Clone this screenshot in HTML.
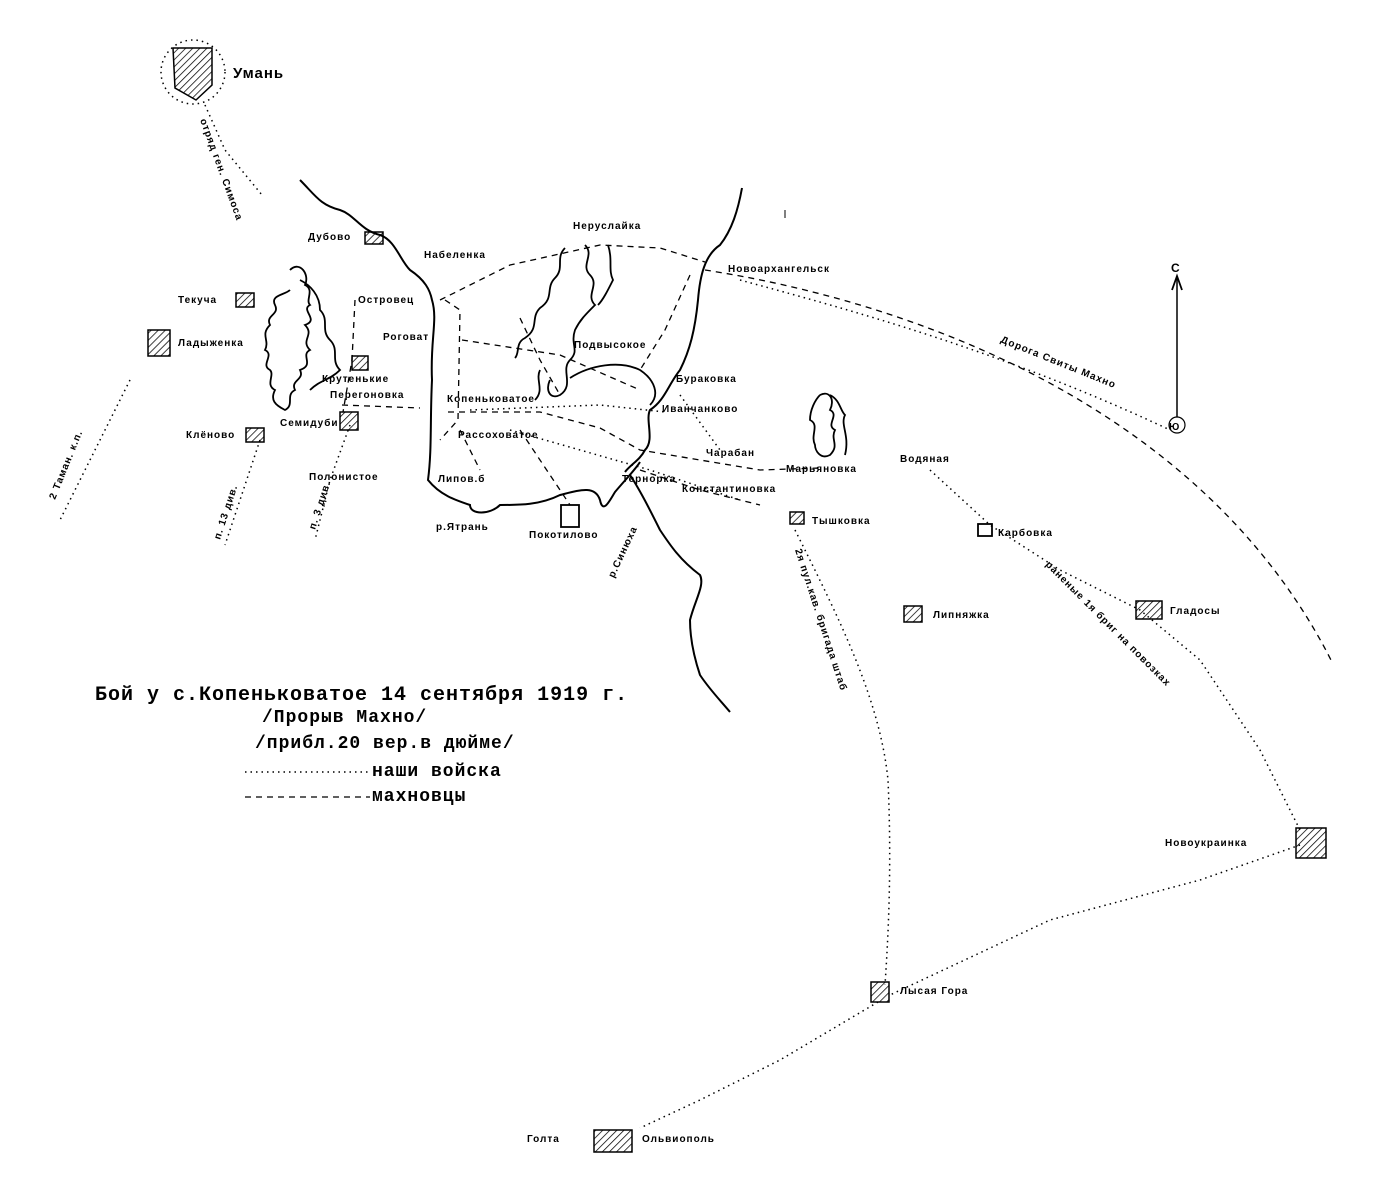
<!DOCTYPE html>
<html><head><meta charset="utf-8"><style>
html,body{margin:0;padding:0;background:#fff;}
svg{display:block}
text{font-family:"Liberation Sans",sans-serif;font-weight:bold;fill:#000;letter-spacing:1px}
.s{font-size:10px}
.r{fill:none;stroke:#000;stroke-width:2}
.d{fill:none;stroke:#000;stroke-width:1.3;stroke-dasharray:6 5}
.o{fill:none;stroke:#000;stroke-width:1.5;stroke-dasharray:1.5 4}
.h{fill:none;stroke:#000;stroke-width:1.8}
.t{fill:url(#hat);stroke:#000;stroke-width:1.5}
.m{font-family:"Liberation Mono",monospace}
</style></head><body>
<svg width="1373" height="1186" viewBox="0 0 1373 1186" xmlns="http://www.w3.org/2000/svg">
<defs><pattern id="hat" width="5" height="5" patternUnits="userSpaceOnUse" patternTransform="rotate(45)"><line x1="0" y1="0" x2="0" y2="5" stroke="#000" stroke-width="1.5"/></pattern></defs>
<rect width="1373" height="1186" fill="#fff"/>
<circle cx="193" cy="72" r="32" class="o"/>
<path d="M173 48 L212 48 L212 85 L196 100 L175 88 Z" class="t" stroke-width="3"/>
<text x="233" y="78" font-size="15">Умань</text>
<path d="M205 105 L225 150 L262 195" class="o"/>
<text x="200" y="120" class="s" transform="rotate(70 200 120)">отряд ген. Симоса</text>
<path d="M300 180 C315 195 320 205 340 210 C355 215 360 230 380 235 C395 240 400 260 410 270 C425 280 430 290 432 300 C438 320 430 340 432 380 C430 420 432 450 428 480 C440 495 455 500 470 505 C470 515 490 515 500 505 C520 505 540 505 560 495 C580 490 595 485 600 500 C603 515 610 500 615 492 C625 480 635 470 640 462" class="r"/>
<path d="M742 188 C738 210 732 230 720 245 C705 255 700 275 698 300 C695 330 690 350 680 370 C668 385 665 400 650 410 C645 420 655 440 645 450 C640 460 630 465 625 472" class="r"/>
<path d="M630 475 C640 490 650 510 660 530 C670 545 680 560 700 575 C705 585 695 600 690 620 C690 640 695 660 700 675 C710 690 720 700 730 712" class="r"/>
<path d="M570 378 C590 365 620 360 640 370 C655 380 660 395 650 405" class="h"/>
<text x="436" y="530" class="s">р.Ятрань</text>
<text x="618" y="535" class="s" transform="rotate(-65 650 560)">р.Синюха</text>
<path d="M290 270 c10 -10 20 5 15 15 c10 5 0 15 5 20 c-10 5 10 15 -5 20 c10 10 -5 15 5 25 c-10 5 5 15 -10 20 c5 10 -10 10 -5 20 c-10 5 0 15 -10 20 c-10 -5 -15 -10 -10 -20 c-10 -5 0 -15 -5 -20 c-10 -5 5 -15 -5 -20 c5 -10 -5 -15 5 -25 c-5 -10 10 -10 5 -20 c-5 -10 10 -10 15 -15" class="h"/>
<path d="M300 280 c10 5 20 15 20 30 c10 10 0 20 10 30 c10 10 0 20 10 30 c-10 10 -20 10 -30 20" class="h"/>
<path d="M565 248 c-10 10 0 20 -10 30 c-10 10 0 20 -15 30 c-10 10 0 20 -15 30 c-10 5 -5 15 -10 20 M585 245 c10 10 -5 20 5 30 c10 10 -5 20 5 30 c-10 10 -15 15 -20 25 c-5 15 5 20 -5 30 c-10 10 5 25 -10 35 c-10 5 -15 -5 -10 -15 M540 370 c-5 10 5 20 -5 30" class="h"/>
<path d="M608 245 c5 15 0 25 5 35 c-5 10 -10 20 -15 25" class="h"/>
<path d="M820 395 c10 -5 15 5 10 15 c10 5 -5 15 5 20 c-5 10 5 15 -5 25 c-10 5 -15 -5 -15 -10 c-5 -10 5 -20 -5 -25 c0 -10 5 -20 10 -25 M830 395 c10 5 10 15 15 20 c-5 10 5 20 0 40" class="h"/>
<rect x="365" y="232" width="18" height="12" class="t"/><text x="308" y="240" class="s">Дубово</text>
<text x="424" y="258" class="s">Набеленка</text>
<text x="573" y="229" class="s">Неруслайка</text>
<text x="728" y="272" class="s">Новоархангельск</text>
<rect x="236" y="293" width="18" height="14" class="t"/><text x="178" y="303" class="s">Текуча</text>
<rect x="148" y="330" width="22" height="26" class="t"/><text x="178" y="346" class="s">Ладыженка</text>
<text x="358" y="303" class="s">Островец</text>
<text x="383" y="340" class="s">Роговат</text>
<rect x="352" y="356" width="16" height="14" class="t"/><text x="322" y="382" class="s">Крутенькие</text>
<text x="330" y="398" class="s">Перегоновка</text>
<rect x="340" y="412" width="18" height="18" class="t"/><text x="280" y="426" class="s">Семидуби</text>
<rect x="246" y="428" width="18" height="14" class="t"/><text x="186" y="438" class="s">Клёново</text>
<text x="309" y="480" class="s">Полонистое</text><text x="438" y="482" class="s">Липов.б</text>
<text x="447" y="402" class="s">Копеньковатое</text>
<text x="458" y="438" class="s">Рассоховатое</text>
<text x="574" y="348" class="s">Подвысокое</text>
<text x="676" y="382" class="s">Бураковка</text>
<text x="662" y="412" class="s">Иванчанково</text>
<text x="706" y="456" class="s">Чарабан</text><text x="786" y="472" class="s">Марьяновка</text>
<text x="622" y="482" class="s">Тернорка</text><text x="682" y="492" class="s">Константиновка</text>
<rect x="561" y="505" width="18" height="22" class="h"/><text x="529" y="538" class="s">Покотилово</text>
<text x="900" y="462" class="s">Водяная</text>
<rect x="790" y="512" width="14" height="12" class="t"/><text x="812" y="524" class="s">Тышковка</text>
<rect x="978" y="524" width="14" height="12" class="h"/><text x="998" y="536" class="s">Карбовка</text>
<rect x="904" y="606" width="18" height="16" class="t"/><text x="933" y="618" class="s">Липняжка</text>
<rect x="1136" y="601" width="26" height="18" class="t"/><text x="1170" y="614" class="s">Гладосы</text>
<rect x="1296" y="828" width="30" height="30" class="t"/><text x="1165" y="846" class="s">Новоукраинка</text>
<rect x="871" y="982" width="18" height="20" class="t"/><text x="900" y="994" class="s">Лысая Гора</text>
<rect x="594" y="1130" width="38" height="22" class="t"/><text x="527" y="1142" class="s">Голта</text><text x="642" y="1142" class="s">Ольвиополь</text>
<line x1="1177" y1="278" x2="1177" y2="430" stroke="#000" stroke-width="1.5"/>
<path d="M1172 290 L1177 276 L1182 290" class="h"/>
<text x="1171" y="272" font-size="12">С</text>
<circle cx="1177" cy="425" r="8" fill="#fff" stroke="#000" stroke-width="1.2"/><text x="1169" y="430" class="s">Ю</text>
<line x1="785" y1="210" x2="785" y2="218" stroke="#000"/>
<path d="M440 300 L510 265 L600 245 L660 248 L705 262" class="d"/>
<path d="M705 270 C900 300 1200 400 1332 662" class="d"/>
<path d="M445 300 L460 310 L458 420 L440 440" class="d"/>
<path d="M462 340 L560 355 L640 390" class="d"/>
<path d="M520 318 L540 360 L560 395" class="d"/>
<path d="M690 275 L665 330 L640 370" class="d"/>
<path d="M448 412 L540 412 L600 428 L640 450 L700 460 L760 470 L820 468" class="d"/>
<path d="M460 430 L480 470 M520 430 L560 490 L570 505" class="d"/>
<path d="M342 405 L420 408" class="d"/>
<path d="M640 470 L700 490 L760 505" class="d"/>
<path d="M355 300 L352 360 L343 412" class="d"/>
<path d="M130 380 L95 450 L60 520" class="o"/>
<text x="55" y="500" class="s" transform="rotate(-68 55 500)">2 Таман. к.п.</text>
<path d="M260 440 L240 500 L225 545" class="o"/>
<text x="220" y="540" class="s" transform="rotate(-72 220 540)">п. 13 див.</text>
<path d="M350 425 L330 480 L315 540" class="o"/>
<text x="315" y="530" class="s" transform="rotate(-72 315 530)">п. 3 див.</text>
<path d="M470 410 L600 405 L665 412" class="o"/>
<path d="M510 430 L650 470 L740 500" class="o"/>
<path d="M680 395 L720 450" class="o"/>
<path d="M795 530 C840 620 880 700 888 780 C892 870 888 940 885 985" class="o"/>
<text x="795" y="550" class="s" transform="rotate(72 795 550)">2я пул.кав. бригада штаб</text>
<path d="M930 470 L990 525 L1060 570 L1140 610 L1200 660 L1260 750 L1300 830" class="o"/>
<text x="1045" y="565" class="s" transform="rotate(45 1045 565)">раненые 1я бриг на повозках</text>
<path d="M1300 845 L1200 880 L1050 920 L890 995" class="o"/>
<path d="M878 1002 L780 1060 L700 1100 L640 1128" class="o"/>
<path d="M740 280 C850 310 1000 350 1170 430" class="o"/>
<text x="1000" y="342" class="s" transform="rotate(22 1000 342)">Дорога Свиты Махно</text>
<text x="95" y="700" font-size="20" class="m" letter-spacing="1.5">Бой у с.Копеньковатое 14 сентября 1919 г.</text>
<text x="262" y="722" font-size="18" class="m">/Прорыв Махно/</text>
<text x="255" y="748" font-size="18" class="m">/прибл.20 вер.в дюйме/</text>
<line x1="245" y1="772" x2="370" y2="772" class="o"/>
<text x="372" y="776" font-size="18" class="m">наши войска</text>
<line x1="245" y1="797" x2="370" y2="797" class="d"/>
<text x="372" y="801" font-size="18" class="m">махновцы</text>
</svg>
</body></html>
